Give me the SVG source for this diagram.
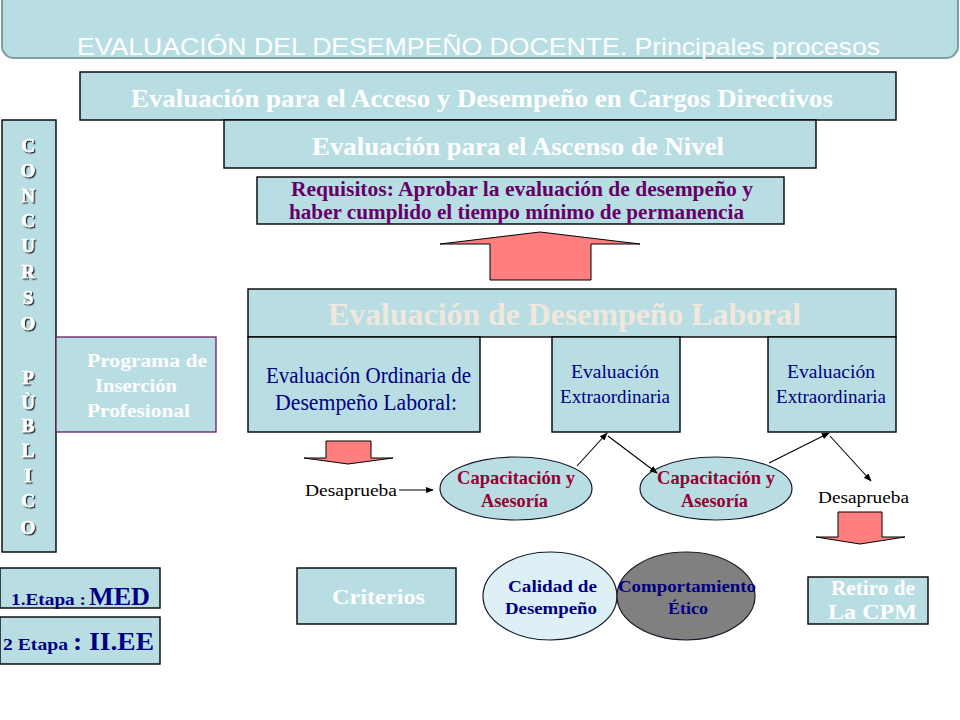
<svg xmlns="http://www.w3.org/2000/svg" width="960" height="720" viewBox="0 0 960 720">
<defs>
<marker id="ah" viewBox="0 0 10 10" refX="9" refY="5" markerWidth="8" markerHeight="8" markerUnits="userSpaceOnUse" orient="auto">
<path d="M0,1 L10,5 L0,9 Z" fill="#000"/>
</marker>
<filter id="sh" x="-40%" y="-40%" width="180%" height="180%">
<feDropShadow dx="1.3" dy="1.3" stdDeviation="0.3" flood-color="#202020" flood-opacity="1"/>
</filter>
</defs>
<style>
.box{fill:#b8dee3;stroke:#000;stroke-width:1.4}
.serif{font-family:"Liberation Serif","Times New Roman",serif}
.sans{font-family:"Liberation Sans",Arial,sans-serif}
.wb{fill:#fff;font-weight:bold}
.navy{fill:#000080}
.nb{fill:#000080;font-weight:bold}
.red{fill:#990033;font-weight:bold}
.arrowshape{fill:#ff7f7f;stroke:#000;stroke-width:1}
.conn{stroke:#000;stroke-width:1.1;fill:none}
.letter{fill:#fff;stroke:#fff;stroke-width:0.5;font-weight:bold;font-size:19px;filter:url(#sh)}
</style>
<rect width="960" height="720" fill="#fff"/>

<g id="title">
<rect x="2" y="-12" width="956" height="70" rx="12" fill="#b8dee3" stroke="#7f9ea2" stroke-width="2"/>
<text x="77" y="55" class="sans" font-size="24" fill="#fff" textLength="803" lengthAdjust="spacingAndGlyphs">EVALUACIÓN DEL DESEMPEÑO DOCENTE. Principales procesos</text>
</g>

<g id="cargos-directivos">
<rect class="box" x="80" y="72" width="816" height="48"/>
<text x="131" y="107" class="serif wb" font-size="26" textLength="702" lengthAdjust="spacingAndGlyphs">Evaluación para el Acceso y Desempeño en Cargos Directivos</text>
</g>

<g id="ascenso-nivel">
<rect class="box" x="224" y="120" width="592" height="48"/>
<text x="312" y="155" class="serif wb" font-size="26" textLength="412" lengthAdjust="spacingAndGlyphs">Evaluación para el Ascenso de Nivel</text>
</g>

<g id="requisitos">
<rect class="box" x="257" y="177" width="527" height="47"/>
<text x="291" y="196" class="serif" font-size="20" font-weight="bold" fill="#660066" textLength="462" lengthAdjust="spacingAndGlyphs">Requisitos: Aprobar la evaluación de desempeño y</text>
<text x="289" y="219" class="serif" font-size="20" font-weight="bold" fill="#660066" textLength="455" lengthAdjust="spacingAndGlyphs">haber cumplido el tiempo mínimo de permanencia</text>
</g>

<g id="up-arrow">
<polygon class="arrowshape" points="540,232 640,244 591,244 591,280 490,280 490,244 440,244"/>
</g>

<g id="concurso-publico">
<rect class="box" x="2" y="120" width="54" height="432"/>
<g class="serif letter" text-anchor="middle">
<text x="28" y="152">C</text>
<text x="28" y="177">O</text>
<text x="28" y="202">N</text>
<text x="28" y="227">C</text>
<text x="28" y="252">U</text>
<text x="28" y="278">R</text>
<text x="28" y="304">S</text>
<text x="28" y="330">O</text>
<text x="28" y="384">P</text>
<text x="28" y="409">Ù</text>
<text x="28" y="432">B</text>
<text x="28" y="457">L</text>
<text x="28" y="482">I</text>
<text x="28" y="507">C</text>
<text x="28" y="534">O</text>
</g>
</g>

<g id="programa-insercion">
<rect x="56" y="337" width="160" height="95" fill="#b8dee3" stroke="#602060" stroke-width="1.3"/>
<text x="87" y="367" class="serif wb" font-size="18" textLength="120" lengthAdjust="spacingAndGlyphs">Programa de</text>
<text x="95" y="392" class="serif wb" font-size="18" textLength="82" lengthAdjust="spacingAndGlyphs">Inserción</text>
<text x="87" y="417" class="serif wb" font-size="18" textLength="103" lengthAdjust="spacingAndGlyphs">Profesional</text>
</g>

<g id="desempeno-laboral">
<rect class="box" x="248" y="289" width="648" height="48"/>
<text x="328" y="325" class="serif" font-size="31" font-weight="bold" fill="#f0e8dc" textLength="473" lengthAdjust="spacingAndGlyphs">Evaluación de Desempeño Laboral</text>
</g>

<g id="ordinaria">
<rect class="box" x="248" y="337" width="232" height="95"/>
<text x="266" y="383" class="serif navy" font-size="23" textLength="205" lengthAdjust="spacingAndGlyphs">Evaluación Ordinaria de</text>
<text x="275" y="410" class="serif navy" font-size="23" textLength="182" lengthAdjust="spacingAndGlyphs">Desempeño Laboral:</text>
</g>

<g id="extraordinaria-1">
<rect class="box" x="552" y="337" width="128" height="95"/>
<text x="571" y="378" class="serif navy" font-size="18" textLength="88" lengthAdjust="spacingAndGlyphs">Evaluación</text>
<text x="560" y="403" class="serif navy" font-size="18" textLength="110" lengthAdjust="spacingAndGlyphs">Extraordinaria</text>
</g>

<g id="extraordinaria-2">
<rect class="box" x="768" y="337" width="128" height="95"/>
<text x="787" y="378" class="serif navy" font-size="18" textLength="88" lengthAdjust="spacingAndGlyphs">Evaluación</text>
<text x="776" y="403" class="serif navy" font-size="18" textLength="110" lengthAdjust="spacingAndGlyphs">Extraordinaria</text>
</g>

<g id="down-arrow-left">
<polygon class="arrowshape" points="326,441 371,441 371,458 393,458 348,464 304,458 326,458"/>
</g>

<g id="desaprueba-left">
<text x="305" y="496" class="serif" font-size="17" fill="#000" textLength="92" lengthAdjust="spacingAndGlyphs">Desaprueba</text>
</g>

<g id="capacitacion-1">
<ellipse cx="516" cy="488.5" rx="76" ry="31.5" fill="#b8dee3" stroke="#1a1a2a" stroke-width="1.2"/>
<text x="457" y="484" class="serif red" font-size="19" textLength="118" lengthAdjust="spacingAndGlyphs">Capacitación y</text>
<text x="481" y="507" class="serif red" font-size="19" textLength="67" lengthAdjust="spacingAndGlyphs">Asesoría</text>
</g>

<g id="capacitacion-2">
<ellipse cx="716" cy="488.5" rx="76" ry="31.5" fill="#b8dee3" stroke="#1a1a2a" stroke-width="1.2"/>
<text x="657" y="484" class="serif red" font-size="19" textLength="118" lengthAdjust="spacingAndGlyphs">Capacitación y</text>
<text x="681" y="507" class="serif red" font-size="19" textLength="67" lengthAdjust="spacingAndGlyphs">Asesoría</text>
</g>

<g id="desaprueba-right">
<text x="818" y="503" class="serif" font-size="17" fill="#000" textLength="91" lengthAdjust="spacingAndGlyphs">Desaprueba</text>
</g>

<g id="down-arrow-right">
<polygon class="arrowshape" points="838,512 882,512 882,537 905,537 860,544 816,537 838,537"/>
</g>

<g id="etapa-1">
<rect class="box" x="0" y="568" width="160" height="40"/>
<text y="605" class="serif nb"><tspan x="11" font-size="16" textLength="75" lengthAdjust="spacingAndGlyphs">1.Etapa :</tspan><tspan x="89" font-size="25" textLength="61" lengthAdjust="spacingAndGlyphs">MED</tspan></text>
</g>

<g id="etapa-2">
<rect class="box" x="0" y="617" width="160" height="47"/>
<text y="650" class="serif nb"><tspan x="3" font-size="16" textLength="65" lengthAdjust="spacingAndGlyphs">2 Etapa</tspan><tspan x="73" font-size="25" textLength="81" lengthAdjust="spacingAndGlyphs">: II.EE</tspan></text>
</g>

<g id="criterios">
<rect class="box" x="297" y="568" width="159" height="56"/>
<text x="332" y="604" class="serif wb" font-size="21" textLength="93" lengthAdjust="spacingAndGlyphs">Criterios</text>
</g>

<g id="calidad">
<ellipse cx="550" cy="596" rx="67" ry="44" fill="#ddf0f5" stroke="#1a1a2a" stroke-width="1.2"/>
<text x="508" y="592" class="serif nb" font-size="17" textLength="89" lengthAdjust="spacingAndGlyphs">Calidad de</text>
<text x="505" y="614" class="serif nb" font-size="17" textLength="92" lengthAdjust="spacingAndGlyphs">Desempeño</text>
</g>

<g id="comportamiento">
<ellipse cx="686" cy="596" rx="69" ry="44" fill="#808080" stroke="#1a1a2a" stroke-width="1.2"/>
<text x="618" y="592" class="serif nb" font-size="17" textLength="138" lengthAdjust="spacingAndGlyphs">Comportamiento</text>
<text x="668" y="614" class="serif nb" font-size="17" textLength="40" lengthAdjust="spacingAndGlyphs">Ético</text>
</g>

<g id="retiro">
<rect class="box" x="808" y="577" width="120" height="47"/>
<text x="831" y="595" class="serif wb" font-size="20" textLength="84" lengthAdjust="spacingAndGlyphs">Retiro de</text>
<text x="828" y="619" class="serif wb" font-size="20" textLength="89" lengthAdjust="spacingAndGlyphs">La CPM</text>
</g>

<g id="connectors">
<line class="conn" x1="399" y1="490" x2="433" y2="490" marker-end="url(#ah)"/>
<line class="conn" x1="577" y1="466" x2="607" y2="433" marker-end="url(#ah)"/>
<line class="conn" x1="608" y1="436" x2="657" y2="473" marker-end="url(#ah)"/>
<line class="conn" x1="769" y1="463" x2="829" y2="433" marker-end="url(#ah)"/>
<line class="conn" x1="830" y1="436" x2="871" y2="481" marker-end="url(#ah)"/>
</g>
</svg>
